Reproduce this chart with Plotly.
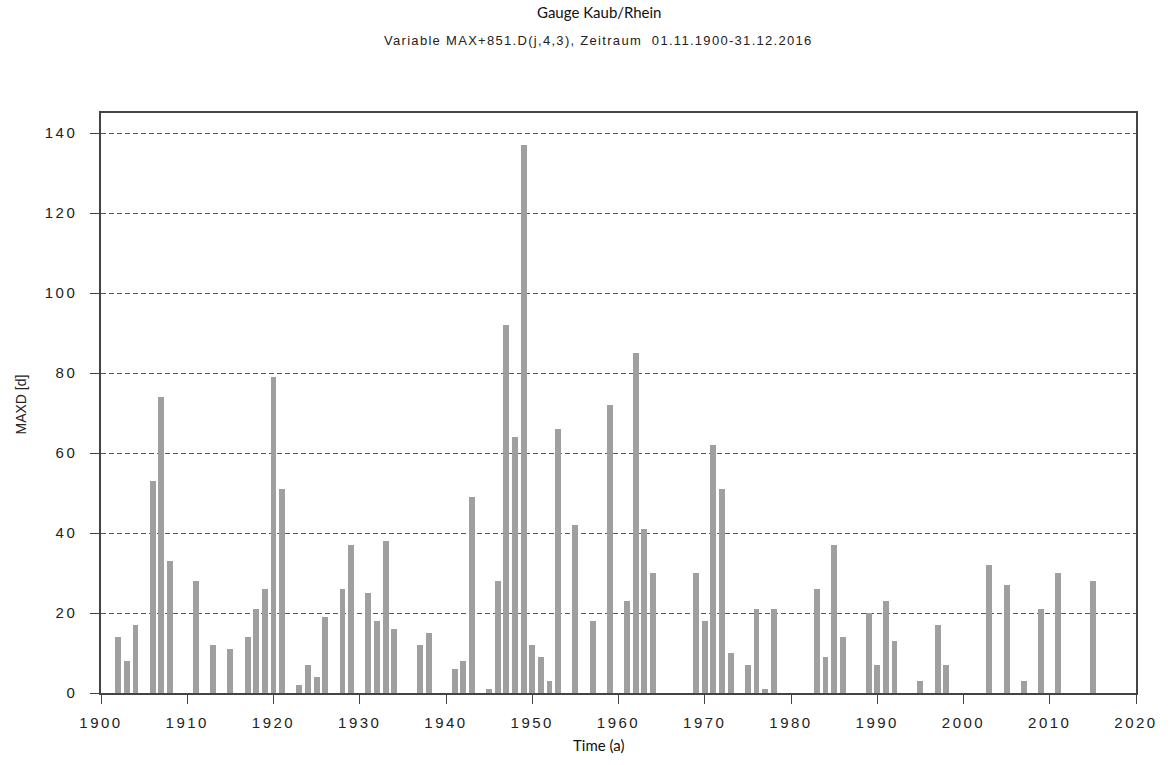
import plotly.graph_objects as go

# Annual maximum duration (days) of low-flow periods, gauge Kaub/Rhein
years = [1902, 1903, 1904, 1906, 1907, 1908, 1911, 1913, 1915, 1917,
         1918, 1919, 1920, 1921, 1923, 1924, 1925, 1926, 1928, 1929,
         1931, 1932, 1933, 1934, 1937, 1938, 1941, 1942, 1943, 1945,
         1946, 1947, 1948, 1949, 1950, 1951, 1952, 1953, 1955, 1957,
         1959, 1961, 1962, 1963, 1964, 1969, 1970, 1971, 1972, 1973,
         1975, 1976, 1977, 1978, 1983, 1984, 1985, 1986, 1989, 1990,
         1991, 1992, 1995, 1997, 1998, 2003, 2005, 2007, 2009, 2011,
         2015]
maxd = [14, 8, 17, 53, 74, 33, 28, 12, 11, 14,
        21, 26, 79, 51, 2, 7, 4, 19, 26, 37,
        25, 18, 38, 16, 12, 15, 6, 8, 49, 1,
        28, 92, 64, 137, 12, 9, 3, 66, 42, 18,
        72, 23, 85, 41, 30, 30, 18, 62, 51, 10,
        7, 21, 1, 21, 26, 9, 37, 14, 20, 7,
        23, 13, 3, 17, 7, 32, 27, 3, 21, 30,
        28]

x_ticks = list(range(1900, 2021, 10))
y_ticks = list(range(0, 141, 20))

TICK_STYLE = "letter-spacing:2.5px"
ARIAL = "Liberation Sans, Arial, sans-serif"
CALIBRI = "Lato, Calibri, sans-serif"

fig = go.Figure()
fig.add_trace(go.Bar(
    x=years, y=maxd, width=0.68,
    marker=dict(color="#9f9f9f", line=dict(width=0)),
    hovertemplate="%{x}: %{y} d<extra></extra>",
))

axis_common = dict(
    showline=True, mirror=True, linecolor="#444444", linewidth=1.5,
    ticks="outside", ticklen=9, tickcolor="#444444", tickwidth=1.2,
    tickfont=dict(family=ARIAL, size=15, color="#222222"),
    zeroline=False,
)

fig.update_xaxes(
    range=[1900, 2020], tickmode="array", tickvals=x_ticks,
    ticktext=[f'<span style="{TICK_STYLE}">{t}</span>' for t in x_ticks],
    showgrid=False, ticklabelstandoff=6, **axis_common,
)
fig.update_yaxes(
    range=[0, 145], tickmode="array", tickvals=y_ticks,
    ticktext=[f'<span style="{TICK_STYLE}">{t}</span>' for t in y_ticks],
    showgrid=True, gridcolor="#555555", gridwidth=1, griddash="5px,3px",
    ticklabelstandoff=10, **axis_common,
)

fig.update_layout(
    width=1170, height=765,
    margin=dict(l=101, r=31, t=113, b=72),
    paper_bgcolor="white", plot_bgcolor="white",
    showlegend=False,
    bargap=0,
    annotations=[
        dict(text="Gauge Kaub/Rhein", xref="paper", yref="paper",
             x=0.4807, y=1.1734, xanchor="center", yanchor="middle",
             showarrow=False, font=dict(family=CALIBRI, size=15, color="#111111")),
        dict(text='<span style="letter-spacing:1.3px">Variable MAX+851.D(j,4,3), Zeitraum&nbsp;&nbsp;01.11.1900-31.12.2016</span>',
             xref="paper", yref="paper",
             x=0.4807, y=1.125, xanchor="center", yanchor="middle",
             showarrow=False, font=dict(family=ARIAL, size=13, color="#222222")),
        dict(text="Time (a)", xref="paper", yref="paper",
             x=0.4807, y=-0.089, xanchor="center", yanchor="middle",
             showarrow=False, font=dict(family=CALIBRI, size=15, color="#111111")),
        dict(text="MAXD [d]", xref="paper", yref="paper",
             x=-0.077, y=0.498, xanchor="center", yanchor="middle", textangle=-90,
             showarrow=False, font=dict(family=ARIAL, size=14, color="#222222")),
    ],
)

fig.write_html("out.html")
